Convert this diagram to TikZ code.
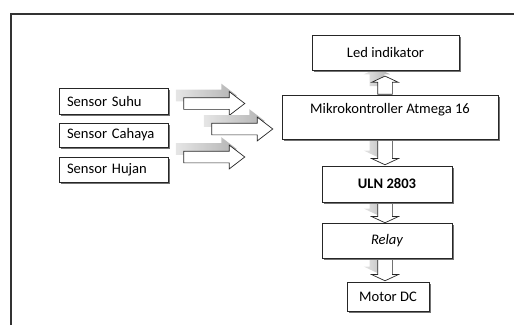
\documentclass[tikz,border=0pt]{standalone}
\usepackage{fontspec}
\setmainfont{Carlito}
\usepackage{tikz}
\usetikzlibrary{backgrounds,calc,shapes.arrows,shadows}
\tikzset{
  blok/.style={draw=black!85, line width=0.5pt, fill=white, inner sep=0pt,
    font=\fontsize{8.3}{10}\selectfont,
    general shadow={shadow xshift=0.04cm, shadow yshift=-0.04cm, fill=black!55, draw=none}},
  sensorblok/.style={blok, minimum width=2.18cm, text width=1.86cm, align=left, inner xsep=0.16cm},
  panah/.style={single arrow, draw=black!85, line width=0.4pt, fill=white,
    inner sep=0pt, text width=0.22cm, text height=0.22cm, text depth=0pt,
    single arrow head extend=0.12cm, single arrow tip angle=75,
    general shadow={shadow xshift=-0.16cm, shadow yshift=0.16cm, draw=none,
      left color=gray!20, right color=gray!60}},
  panahv/.style={panah, text width=0.28cm, text height=0.28cm,
    single arrow head extend=0.12cm, single arrow tip angle=130}
}
\begin{document}
\begin{tikzpicture}[x=0.02cm,y=-0.02cm]
\useasboundingbox (0,0) rectangle (514,325);
\draw[black!80, line width=0.6pt] (11,325) -- (11,14) -- (514,14);

\node[sensorblok, minimum height=0.52cm] (suhu) at (113.5,101) {Sensor Suhu};
\node[sensorblok, minimum height=0.48cm] (cahaya) at (113.5,135) {Sensor Cahaya};
\node[sensorblok, minimum height=0.50cm] (hujan) at (113.5,169.5) {Sensor Hujan};

\node[blok, minimum width=2.94cm, minimum height=0.70cm] (led) at (385.5,52.5) {Led indikator};
\node[blok, minimum width=4.32cm, text height=0.36cm, text depth=0.52cm] (mcu) at (390,117) {Mikrokontroller Atmega 16};
\node[blok, minimum width=2.60cm, minimum height=0.72cm] (uln) at (387,184) {\bfseries ULN 2803};
\node[blok, minimum width=2.60cm, minimum height=0.70cm] (relay) at (387,240.5) {\itshape Relay};
\node[blok, minimum width=1.64cm, minimum height=0.58cm] (motor) at (388,296.5) {Motor DC};

\begin{scope}[on background layer]
\node[panah, anchor=tail, minimum height=1.22cm] (psuhu) at ([xshift=0.3cm,yshift=-0.05cm]suhu.east) {};
\node[panah, anchor=tail, minimum height=1.22cm] (pcahaya) at ([xshift=0.86cm,yshift=0.12cm]cahaya.east) {};
\node[panah, anchor=tail, minimum height=1.22cm] (phujan) at ([xshift=0.3cm,yshift=0.25cm]hujan.east) {};

\node[panahv, shape border rotate=90, anchor=tail, minimum height=0.36cm] (pled) at ([xshift=-0.1cm]mcu.north) {};
\node[panahv, shape border rotate=270, anchor=tail, minimum height=0.5cm] (puln) at ([xshift=-0.1cm]mcu.south) {};
\node[panahv, shape border rotate=270, anchor=tail, minimum height=0.4cm] (prelay) at ([xshift=-0.04cm]uln.south) {};
\node[panahv, shape border rotate=270, anchor=tail, minimum height=0.44cm] (pmotor) at ([xshift=-0.04cm]relay.south) {};
\end{scope}
\end{tikzpicture}
\end{document}
